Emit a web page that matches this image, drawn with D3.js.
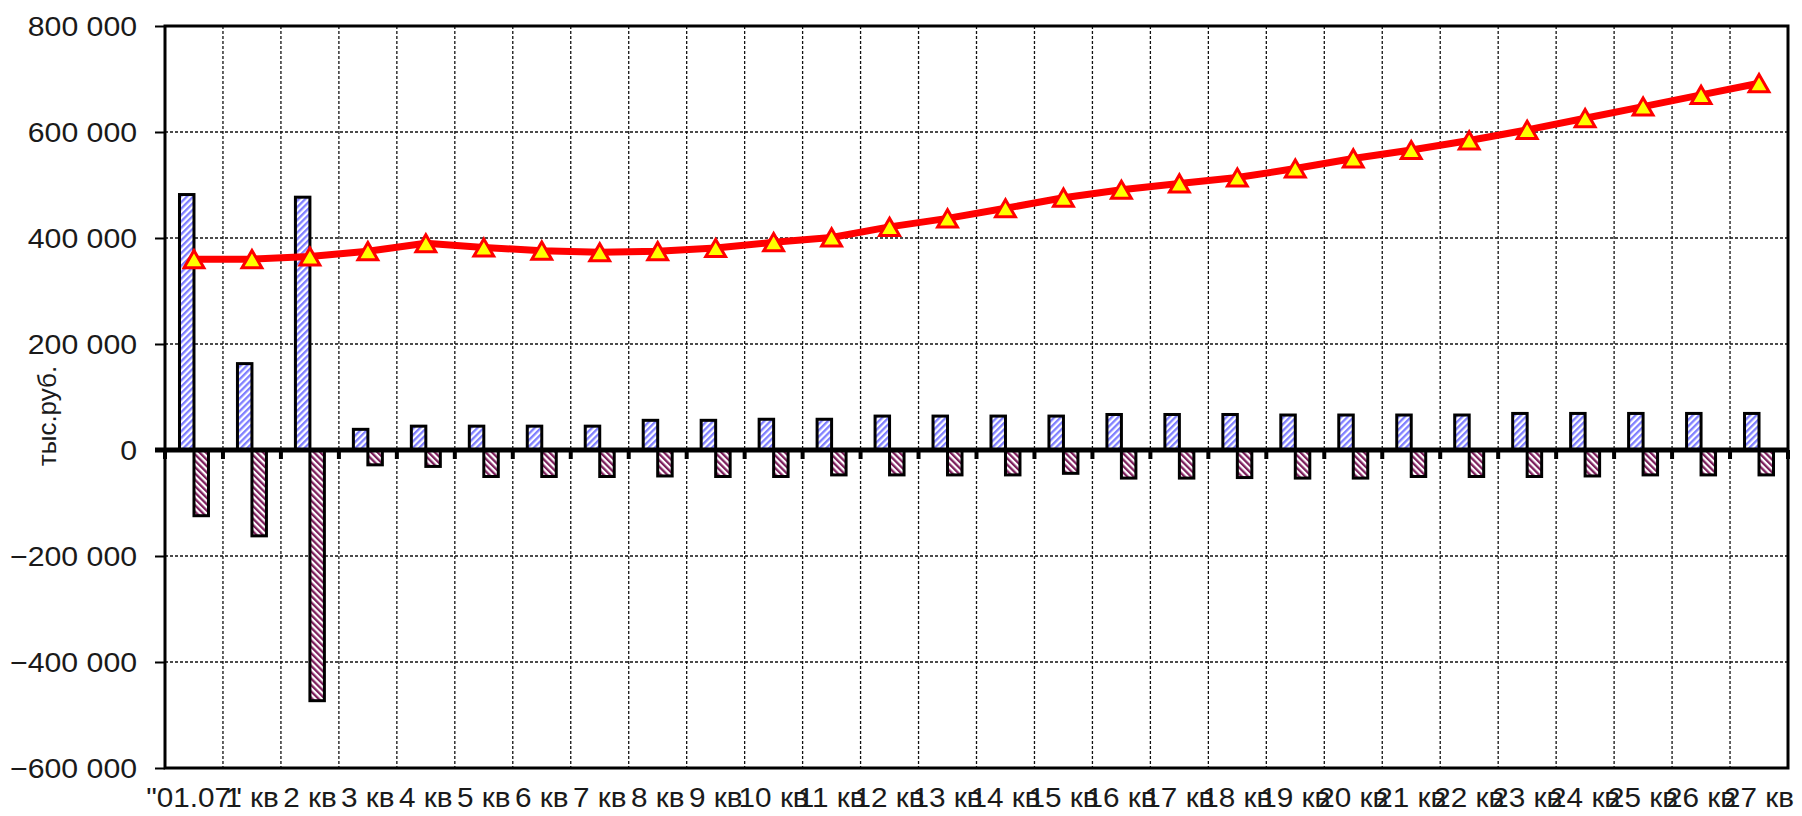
<!DOCTYPE html>
<html>
<head>
<meta charset="utf-8">
<script src="https://cdn.jsdelivr.net/npm/d3@7"></script>
<style>
    body { margin: 0; background: #fff; }
    svg { display: block; }
</style>
</head>
<body>
<svg id="chart" width="1802" height="816"></svg>
<script>
// quarters
let categories = ['"01.07"', "1 кв", "2 кв", "3 кв", "4 кв", "5 кв", "6 кв", "7 кв", "8 кв", "9 кв",
    "10 кв", "11 кв", "12 кв", "13 кв", "14 кв", "15 кв", "16 кв", "17 кв", "18 кв", "19 кв",
    "20 кв", "21 кв", "22 кв", "23 кв", "24 кв", "25 кв", "26 кв", "27 кв"];

// blue bars
let inflow = [482000, 163000, 477000, 39000, 45000, 45000, 45000, 45000, 56000, 56000,
    58000, 58000, 64000, 64000, 64000, 64000, 67000, 67000, 67000, 66000,
    66000, 66000, 66000, 69000, 69000, 69000, 69000, 69000];

// pink bars
let outflow = [-124000, -162000, -473000, -28000, -31000, -50000, -50000, -50000, -49000, -50000,
    -50000, -47000, -47000, -47000, -47000, -44000, -53000, -53000, -52000, -53000,
    -53000, -50000, -50000, -50000, -49000, -47000, -47000, -47000];

// red line
let balance = [360000, 360000, 365000, 375000, 390000, 382000, 376000, 373000, 375000, 381000,
    392000, 401000, 421000, 437000, 456000, 476000, 491000, 503000, 514000, 531000,
    550000, 566000, 584000, 604000, 626000, 648000, 670000, 692000];

let yTicks = [-600000, -400000, -200000, 0, 200000, 400000, 600000, 800000];

let pLeft = 165, pRight = 1788, pTop = 26, pBottom = 768;
let stretch = 1.1; // category labels are a bit wide in the picture
let yStretch = 1.08;
let font = "Arial, 'Liberation Sans', sans-serif";

let svg = d3.select("#chart");

let x = d3.scaleBand()
    .domain(categories)
    .range([pLeft, pRight])
    .padding(0);

let y = d3.scaleLinear()
    .domain([-600000, 800000])
    .range([pBottom, pTop]);

let step = x.step();
let boundaries = categories.map(c => x(c)).concat([pRight]);

// hatch patterns
let defs = svg.append("defs");

function hatch(id, color, angle) {
    let p = defs.append("pattern")
        .attr("id", id)
        .attr("patternUnits", "userSpaceOnUse")
        .attr("width", 4.5)
        .attr("height", 4.5)
        .attr("patternTransform", `rotate(${angle})`);
    p.append("rect").attr("width", 4.5).attr("height", 4.5).attr("fill", "#fff");
    p.append("rect").attr("width", 2.3).attr("height", 4.5).attr("fill", color);
}
hatch("blueHatch", "#7f7fff", 45);
hatch("pinkHatch", "#7d1f5c", -45);

//grid
svg.append("g")
    .selectAll("line")
    .data(yTicks.filter(v => v !== 0 && v !== 800000 && v !== -600000))
    .enter()
    .append("line")
    .attr("x1", pLeft)
    .attr("x2", pRight)
    .attr("y1", d => y(d))
    .attr("y2", d => y(d))
    .attr("stroke", "#111")
    .attr("stroke-width", 1.3)
    .attr("stroke-dasharray", "3,2");

svg.append("g")
    .selectAll("line")
    .data(boundaries.slice(1, -1))
    .enter()
    .append("line")
    .attr("x1", d => d)
    .attr("x2", d => d)
    .attr("y1", pTop)
    .attr("y2", pBottom)
    .attr("stroke", "#111")
    .attr("stroke-width", 1.3)
    .attr("stroke-dasharray", "3,2");

//bars
let bars = svg.append("g");

bars.selectAll("rect.in")
    .data(categories)
    .enter()
    .append("rect")
    .attr("class", "in")
    .attr("x", d => x(d) + step * 0.25)
    .attr("width", step * 0.25)
    .attr("y", (d, i) => y(inflow[i]))
    .attr("height", (d, i) => y(0) - y(inflow[i]))
    .attr("fill", "url(#blueHatch)")
    .attr("stroke", "#000")
    .attr("stroke-width", 3);

bars.selectAll("rect.out")
    .data(categories)
    .enter()
    .append("rect")
    .attr("class", "out")
    .attr("x", d => x(d) + step * 0.5)
    .attr("width", step * 0.25)
    .attr("y", y(0))
    .attr("height", (d, i) => y(outflow[i]) - y(0))
    .attr("fill", "url(#pinkHatch)")
    .attr("stroke", "#000")
    .attr("stroke-width", 3);

//plot border
svg.append("rect")
    .attr("x", pLeft)
    .attr("y", pTop)
    .attr("width", pRight - pLeft)
    .attr("height", pBottom - pTop)
    .attr("fill", "none")
    .attr("stroke", "#000")
    .attr("stroke-width", 3);

//value axis
let yAxis = svg.append("g")
    .attr("transform", `translate(${pLeft},0)`)
    .call(d3.axisLeft(y)
        .tickValues(yTicks)
        .tickSize(10)
        .tickPadding(18)
        .tickFormat(d => d3.format(",")(d).replace(/,/g, " ")));

yAxis.select(".domain").remove();
yAxis.selectAll(".tick line").attr("stroke", "#000").attr("stroke-width", 2);
yAxis.selectAll(".tick text")
    .attr("x", -28 / yStretch)
    .attr("dy", "0.35em")
    .attr("transform", `scale(${yStretch},1)`)
    .style("font-family", font)
    .style("font-size", "28px")
    .attr("fill", "#1a1a1a");

//zero line + category ticks
svg.append("line")
    .attr("x1", pLeft - 10)
    .attr("x2", pRight)
    .attr("y1", y(0))
    .attr("y2", y(0))
    .attr("stroke", "#000")
    .attr("stroke-width", 5);

svg.append("g")
    .selectAll("line")
    .data(boundaries)
    .enter()
    .append("line")
    .attr("x1", d => d)
    .attr("x2", d => d)
    .attr("y1", y(0))
    .attr("y2", y(0) + 9)
    .attr("stroke", "#000")
    .attr("stroke-width", 4);

//category labels
let xAxis = svg.append("g")
    .attr("transform", `translate(0,${pBottom})`)
    .call(d3.axisBottom(x).tickSize(0).tickPadding(20));

xAxis.select(".domain").remove();
xAxis.selectAll(".tick text")
    .attr("transform", `scale(${stretch},1)`)
    .style("font-family", font)
    .style("font-size", "27px")
    .attr("fill", "#1a1a1a");

//line
let line = d3.line()
    .x((d, i) => x(categories[i]) + step / 2)
    .y(d => y(d));

svg.append("path")
    .datum(balance)
    .attr("d", line)
    .attr("fill", "none")
    .attr("stroke", "#ff0000")
    .attr("stroke-width", 7)
    .attr("stroke-linejoin", "round");

let tri = d3.symbol(d3.symbolTriangle, 170);

svg.append("g")
    .selectAll("path")
    .data(balance)
    .enter()
    .append("path")
    .attr("d", tri)
    .attr("transform", (d, i) => `translate(${x(categories[i]) + step / 2},${y(d) + 2.8})`)
    .attr("fill", "#ffff00")
    .attr("stroke", "#ff0000")
    .attr("stroke-width", 3)
    .attr("stroke-linejoin", "miter");

//axis title
svg.append("text")
    .attr("transform", `translate(56,416) rotate(-90)`)
    .attr("text-anchor", "middle")
    .style("font-family", font)
    .style("font-size", "26px")
    .attr("fill", "#1a1a1a")
    .text("тыс.руб.");
</script>
</body>
</html>
